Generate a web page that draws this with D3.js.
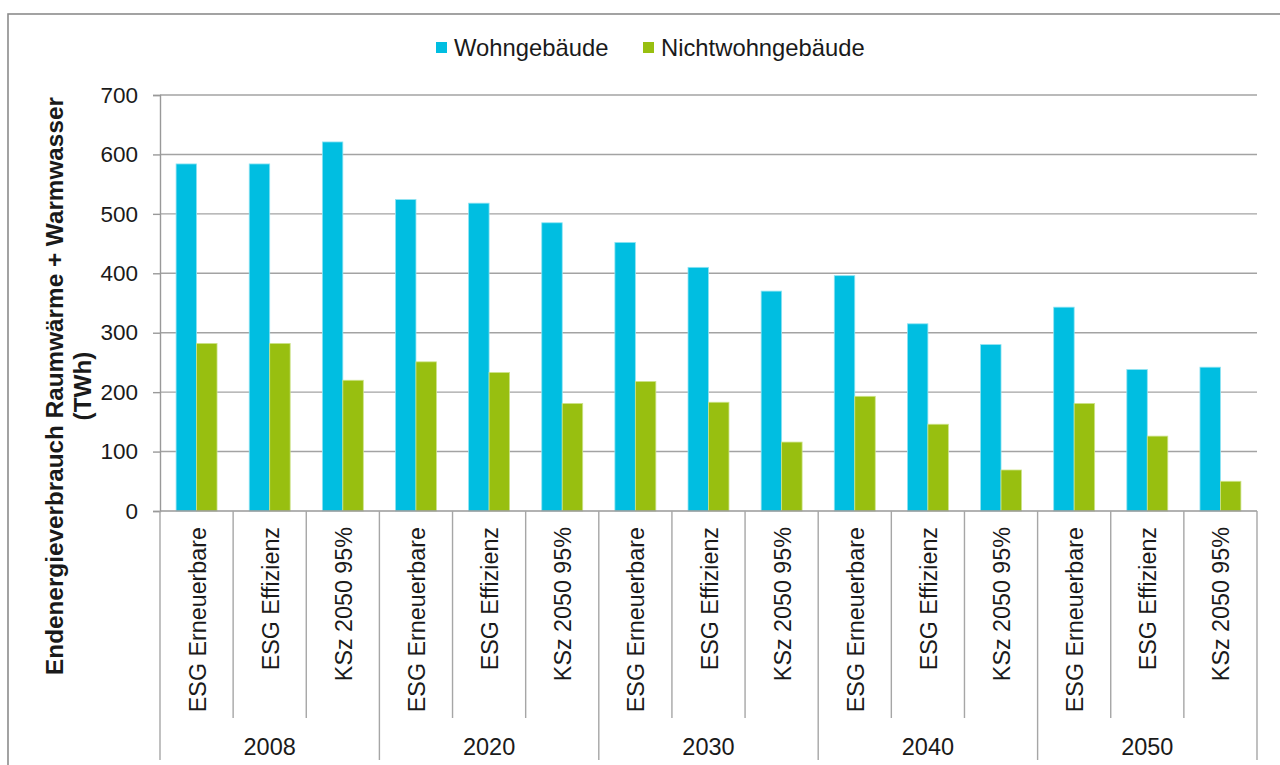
<!DOCTYPE html>
<html>
<head>
<meta charset="utf-8">
<script src="https://cdn.jsdelivr.net/npm/d3@7"></script>
<style>
  body { margin: 0; background: #fff; }
  text { font-family: "Liberation Sans", Arial, sans-serif; fill: #1a1a1a; }
</style>
</head>
<body>
<div id="chart"></div>
<script>
// data
var groups = ["2008", "2020", "2030", "2040", "2050"];
var scenarios = ["ESG Erneuerbare", "ESG Effizienz", "KSz 2050 95%"];
var seriesNames = ["Wohngebäude", "Nichtwohngebäude"];
var wohn = [584, 584, 621, 524, 518, 485, 452, 410, 370, 396, 315, 280, 343, 238, 242];
var nichtwohn = [282, 282, 220, 251, 233, 181, 218, 183, 116, 193, 146, 69, 181, 126, 50];
var yTicks = [0, 100, 200, 300, 400, 500, 600, 700];

var colors = ["#00bee1", "#98bf10"];
var strokes = ["#8fe3f2", "#cde38a"];

var W = 1280, H = 765;
var margin = { top: 95, right: 23, bottom: 254, left: 160 },
  width = W - margin.left - margin.right,
  height = H - margin.top - margin.bottom;

// build rows: one per group/scenario
var rows = [];
groups.forEach(function (g, gi) {
  scenarios.forEach(function (s, si) {
    var i = gi * 3 + si;
    rows.push({ key: g + "|" + s, group: g, scen: s, values: [wohn[i], nichtwohn[i]] });
  });
});

var svg = d3.select("#chart")
  .append("svg")
  .attr("width", W)
  .attr("height", H);

// outer frame
svg.append("rect")
  .attr("x", 8).attr("y", 14)
  .attr("width", W).attr("height", H)
  .attr("fill", "none")
  .attr("stroke", "#8c8c8c")
  .attr("stroke-width", 1.6);

var g = svg.append("g")
  .attr("transform", "translate(" + margin.left + "," + margin.top + ")");

var x0 = d3.scaleBand()
  .domain(rows.map(function (d) { return d.key; }))
  .range([0, width]);

var x1 = d3.scaleBand()
  .domain([0, 1])
  .range([x0.bandwidth() * 0.22, x0.bandwidth() * 0.78]);

var y = d3.scaleLinear()
  .domain([0, 700])
  .range([height, 0]);

// gridlines
g.append("g")
  .selectAll("line")
  .data(yTicks.slice(1))
  .enter().append("line")
  .attr("x1", 0).attr("x2", width)
  .attr("y1", function (d) { return y(d); })
  .attr("y2", function (d) { return y(d); })
  .attr("stroke", "#a3a3a3")
  .attr("stroke-width", 1.4);

// y axis
var yAxis = g.append("g")
  .call(d3.axisLeft(y).tickValues(yTicks).tickSize(7).tickPadding(15));
yAxis.select(".domain").attr("stroke", "#999").attr("stroke-width", 1.4);
yAxis.selectAll(".tick line").attr("stroke", "#999").attr("stroke-width", 1.4);
yAxis.selectAll(".tick text")
  .attr("font-size", 22.5)
  .attr("fill", "#1a1a1a")
  .style("font-family", "Liberation Sans, Arial, sans-serif");

// bars
var cat = g.selectAll(".cat")
  .data(rows)
  .enter().append("g")
  .attr("class", "cat")
  .attr("transform", function (d) { return "translate(" + x0(d.key) + ",0)"; });

cat.selectAll("rect")
  .data(function (d) { return d.values; })
  .enter().append("rect")
  .attr("x", function (d, i) { return x1(i); })
  .attr("width", x1.bandwidth())
  .attr("y", function (d) { return y(d); })
  .attr("height", function (d) { return height - y(d); })
  .attr("fill", function (d, i) { return colors[i]; })
  .attr("stroke", function (d, i) { return strokes[i]; })
  .attr("stroke-width", 0.8);

// x axis baseline
g.append("line")
  .attr("x1", 0).attr("x2", width)
  .attr("y1", height).attr("y2", height)
  .attr("stroke", "#999").attr("stroke-width", 1.4);

// category separators
var step = x0.step();
var seps = d3.range(rows.length + 1);
g.selectAll(".sep")
  .data(seps)
  .enter().append("line")
  .attr("class", "sep")
  .attr("x1", function (d) { return d * step; })
  .attr("x2", function (d) { return d * step; })
  .attr("y1", height)
  .attr("y2", function (d) { return d % 3 === 0 ? height + 249 : height + 207; })
  .attr("stroke", "#a6a6a6")
  .attr("stroke-width", 1.4);

// scenario labels (rotated)
cat.append("text")
  .attr("transform", function (d) {
    return "translate(" + (x0.bandwidth() / 2 + 1) + "," + (height + 16) + ") rotate(-90)";
  })
  .attr("text-anchor", "end")
  .attr("dominant-baseline", "central")
  .attr("font-size", 23.3)
  .text(function (d) { return d.scen; });

// group labels
g.selectAll(".grp")
  .data(groups)
  .enter().append("text")
  .attr("class", "grp")
  .attr("x", function (d, i) { return (i * 3 + 1.5) * step; })
  .attr("y", height + 244)
  .attr("text-anchor", "middle")
  .attr("font-size", 23.5)
  .text(function (d) { return d; });

// y axis title
var yt = svg.append("text")
  .attr("transform", "translate(63,386) rotate(-90)")
  .attr("text-anchor", "middle")
  .attr("font-size", 24.3)
  .attr("font-weight", "bold");
yt.append("tspan").attr("x", 0).attr("dy", 0).text("Endenergieverbrauch Raumwärme + Warmwasser");
yt.append("tspan").attr("x", 0).attr("dy", 28).text("(TWh)");

// legend
var legX = [436, 643];
var leg = svg.selectAll(".leg")
  .data(seriesNames)
  .enter().append("g")
  .attr("class", "leg")
  .attr("transform", function (d, i) { return "translate(" + legX[i] + ",42)"; });
leg.append("rect")
  .attr("width", 11).attr("height", 11)
  .attr("fill", function (d, i) { return colors[i]; });
leg.append("text")
  .attr("x", 18).attr("y", 14)
  .attr("font-size", 23.8)
  .text(function (d) { return d; });
</script>
</body>
</html>
